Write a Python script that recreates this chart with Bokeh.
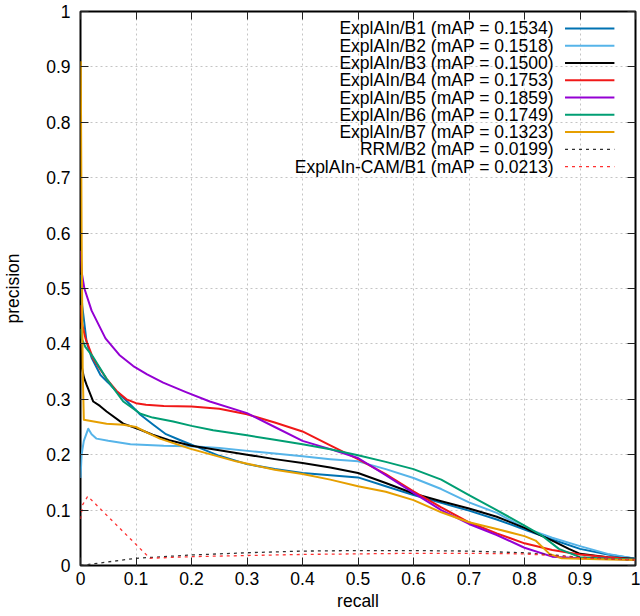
from bokeh.plotting import figure
from bokeh.models import Range1d, FixedTicker, LinearAxis, CustomJSTickFormatter
from bokeh.core.properties import value
from bokeh.embed import file_html
from bokeh.resources import INLINE

# ---------------- data ----------------
B1_R = [0, 0.003, 0.011, 0.02, 0.036, 0.05, 0.065, 0.085, 0.108, 0.13, 0.154, 0.18, 0.21, 0.25, 0.3, 0.35, 0.4, 0.45, 0.5, 0.55, 0.6, 0.65, 0.7, 0.75, 0.8, 0.85, 0.9, 0.95, 1.0]
B1_P = [0.525, 0.47, 0.403, 0.375, 0.344, 0.33, 0.314, 0.295, 0.272, 0.255, 0.237, 0.226, 0.214, 0.198, 0.183, 0.174, 0.167, 0.163, 0.159, 0.143, 0.127, 0.113, 0.099, 0.083, 0.065, 0.047, 0.03, 0.02, 0.012]

B2_R = [0, 0.002, 0.006, 0.014, 0.02, 0.029, 0.05, 0.09, 0.15, 0.208, 0.25, 0.31, 0.35, 0.4, 0.45, 0.5, 0.55, 0.6, 0.65, 0.7, 0.75, 0.8, 0.85, 0.9, 0.95, 1.0]
B2_P = [0.158, 0.2, 0.225, 0.247, 0.237, 0.229, 0.225, 0.219, 0.216, 0.215, 0.212, 0.206, 0.202, 0.197, 0.192, 0.188, 0.174, 0.158, 0.138, 0.114, 0.095, 0.068, 0.05, 0.035, 0.021, 0.012]

B3_R = [0, 0.002, 0.006, 0.011, 0.023, 0.035, 0.047, 0.077, 0.108, 0.13, 0.16, 0.2, 0.25, 0.3, 0.35, 0.4, 0.45, 0.5, 0.55, 0.6, 0.65, 0.7, 0.75, 0.8, 0.85, 0.88, 0.9, 0.95, 1.0]
B3_P = [0.40, 0.36, 0.34, 0.326, 0.296, 0.288, 0.278, 0.256, 0.245, 0.236, 0.226, 0.216, 0.208, 0.2, 0.192, 0.185, 0.177, 0.167, 0.149, 0.13, 0.116, 0.103, 0.088, 0.068, 0.045, 0.03, 0.021, 0.015, 0.012]

B4_R = [0, 0.002, 0.009, 0.023, 0.035, 0.047, 0.065, 0.083, 0.1, 0.118, 0.15, 0.2, 0.25, 0.3, 0.35, 0.4, 0.45, 0.5, 0.55, 0.6, 0.65, 0.7, 0.75, 0.8, 0.85, 0.9, 0.95, 1.0]
B4_P = [0.47, 0.44, 0.41, 0.373, 0.355, 0.337, 0.315, 0.30, 0.293, 0.29, 0.288, 0.287, 0.283, 0.273, 0.258, 0.242, 0.217, 0.192, 0.165, 0.134, 0.105, 0.078, 0.058, 0.04, 0.028, 0.02, 0.015, 0.011]

B5_R = [0, 0.002, 0.007, 0.02, 0.045, 0.07, 0.095, 0.12, 0.149, 0.19, 0.233, 0.3, 0.35, 0.4, 0.45, 0.5, 0.55, 0.6, 0.65, 0.7, 0.75, 0.8, 0.85, 0.9, 0.95, 1.0]
B5_P = [0.568, 0.53, 0.50, 0.46, 0.41, 0.38, 0.36, 0.345, 0.33, 0.313, 0.296, 0.275, 0.25, 0.225, 0.21, 0.194, 0.163, 0.131, 0.1, 0.075, 0.055, 0.032, 0.016, 0.013, 0.012, 0.01]

B6_R = [0, 0.002, 0.009, 0.023, 0.047, 0.077, 0.108, 0.13, 0.167, 0.2, 0.239, 0.3, 0.35, 0.4, 0.45, 0.5, 0.55, 0.6, 0.65, 0.7, 0.75, 0.8, 0.83, 0.862, 0.9, 0.95, 1.0]
B6_P = [0.427, 0.41, 0.394, 0.376, 0.337, 0.296, 0.274, 0.267, 0.26, 0.252, 0.244, 0.235, 0.227, 0.219, 0.21, 0.199, 0.187, 0.174, 0.155, 0.127, 0.1, 0.072, 0.055, 0.03, 0.015, 0.012, 0.011]

B7_R = [0.0005, 0.002, 0.004, 0.006, 0.047, 0.077, 0.1, 0.12, 0.143, 0.197, 0.28, 0.35, 0.4, 0.45, 0.5, 0.55, 0.6, 0.65, 0.7, 0.75, 0.8, 0.82, 0.845, 0.867, 0.9, 0.95, 1.0]
B7_P = [0.91, 0.6, 0.35, 0.263, 0.256, 0.254, 0.25, 0.24, 0.229, 0.211, 0.188, 0.173, 0.165, 0.155, 0.143, 0.133, 0.118, 0.096, 0.078, 0.066, 0.053, 0.045, 0.021, 0.013, 0.012, 0.011, 0.01]

RRM_R = [0, 0.1, 0.2, 0.3, 0.4, 0.5, 0.6, 0.7, 0.8, 0.85, 0.9, 0.95, 1.0]
RRM_P = [0.0, 0.013, 0.019, 0.023, 0.026, 0.027, 0.027, 0.026, 0.023, 0.019, 0.015, 0.012, 0.01]

CAM_R = [0, 0.004, 0.013, 0.125, 0.2, 0.3, 0.4, 0.5, 0.6, 0.7, 0.8, 0.85, 0.9, 0.95, 1.0]
CAM_P = [0.084, 0.11, 0.125, 0.013, 0.016, 0.018, 0.02, 0.021, 0.022, 0.022, 0.021, 0.018, 0.014, 0.012, 0.01]

LEGEND_LABELS = [
    "ExplAIn/B1 (mAP = 0.1534)",
    "ExplAIn/B2 (mAP = 0.1518)",
    "ExplAIn/B3 (mAP = 0.1500)",
    "ExplAIn/B4 (mAP = 0.1753)",
    "ExplAIn/B5 (mAP = 0.1859)",
    "ExplAIn/B6 (mAP = 0.1749)",
    "ExplAIn/B7 (mAP = 0.1323)",
    "RRM/B2 (mAP = 0.0199)",
    "ExplAIn-CAM/B1 (mAP = 0.0213)",
]

TICKS = [0, 0.1, 0.2, 0.3, 0.4, 0.5, 0.6, 0.7, 0.8, 0.9, 1]
TICK_LABELS = ["0", "0.1", "0.2", "0.3", "0.4", "0.5", "0.6", "0.7", "0.8", "0.9", "1"]

# ---------------- styles ----------------
SERIES = [
    (B1_R, B1_P, "#0072b2", 2, None),
    (B2_R, B2_P, "#56b4e9", 2, None),
    (B3_R, B3_P, "#000000", 2, None),
    (B4_R, B4_P, "#f01818", 2, None),
    (B5_R, B5_P, "#9400d3", 2, None),
    (B6_R, B6_P, "#009e73", 2, None),
    (B7_R, B7_P, "#e69f00", 2, None),
    (RRM_R, RRM_P, "#303030", 1.3, "3 4"),
    (CAM_R, CAM_P, "#ff3030", 1.3, "3 4"),
]

FONT = "Liberation Sans"
FS = "17.5px"

p = figure(width=640, height=616, output_backend="svg", toolbar_location=None,
           x_range=Range1d(0, 1), y_range=Range1d(0, 1),
           min_border_left=77, min_border_right=5, min_border_top=11, min_border_bottom=51,
           x_axis_label="recall", y_axis_label="precision")

p.outline_line_color = "black"
p.outline_line_width = 2
p.background_fill_color = "white"
p.border_fill_color = "white"

overrides = dict(zip(TICKS, TICK_LABELS))
for ax in (p.xaxis[0], p.yaxis[0]):
    ax.ticker = FixedTicker(ticks=TICKS)
    ax.major_label_overrides = overrides
    ax.axis_line_color = None
    ax.major_tick_in = 8
    ax.major_tick_out = 0
    ax.major_tick_line_color = "#222222"
    ax.minor_tick_line_color = None
    ax.major_label_text_font = FONT
    ax.major_label_text_font_size = FS
    ax.major_label_text_color = "black"
    ax.axis_label_text_font = FONT
    ax.axis_label_text_font_size = FS
    ax.axis_label_text_font_style = "normal"
    ax.axis_label_text_color = "black"

p.yaxis[0].major_label_standoff = 10
p.yaxis[0].axis_label_standoff = 20
p.xaxis[0].major_label_standoff = 6
p.xaxis[0].axis_label_standoff = 3

blank = CustomJSTickFormatter(code="return ''")
for loc in ("right", "above"):
    ax = LinearAxis(ticker=FixedTicker(ticks=TICKS), formatter=blank)
    ax.axis_line_color = None
    ax.major_tick_in = 8
    ax.major_tick_out = 0
    ax.major_tick_line_color = "#222222"
    ax.minor_tick_line_color = None
    ax.major_label_text_font_size = "0px"
    ax.major_label_standoff = 0
    p.add_layout(ax, loc)

for g in (p.xgrid[0], p.ygrid[0]):
    g.ticker = FixedTicker(ticks=TICKS)
    g.grid_line_color = "#c4c4c4"
    g.grid_line_dash = "2 3"
    g.grid_line_width = 1

for r, pr, col, lw, dash in SERIES:
    kw = dict(line_color=col, line_width=lw, line_join="round")
    if dash:
        kw["line_dash"] = dash
    p.line(r, pr, **kw)

# ---------------- legend (gnuplot style: text right-aligned, sample to the right) ----------------
LEG_TEXT_X = 0.853
LEG_X0 = 0.873
LEG_X1 = 0.962
LEG_Y0 = 0.9695
LEG_DY = 0.0312

ys = [LEG_Y0 - i * LEG_DY for i in range(len(LEGEND_LABELS))]
p.text(x=[LEG_TEXT_X] * len(ys), y=ys, text=LEGEND_LABELS,
       text_align="right", text_baseline="middle",
       text_font=value(FONT), text_font_size=value(FS), text_color="black")
for y, (_, _, col, lw, dash) in zip(ys, SERIES):
    kw = dict(line_color=col, line_width=lw)
    if dash:
        kw["line_dash"] = dash
    p.segment(x0=[LEG_X0], y0=[y], x1=[LEG_X1], y1=[y], **kw)

open("out.html", "w").write(file_html(p, INLINE))
